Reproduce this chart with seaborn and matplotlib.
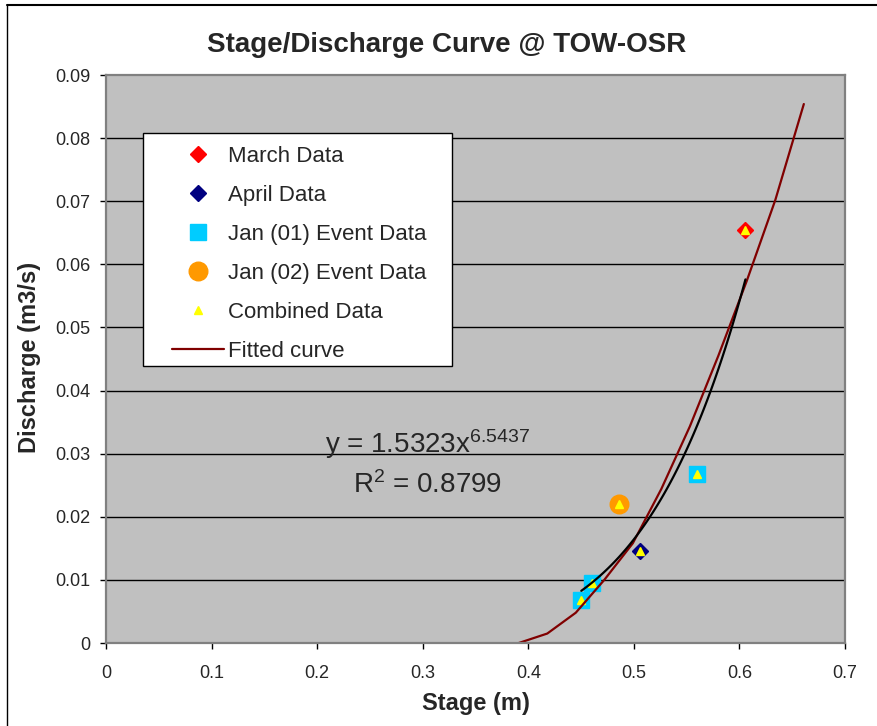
import numpy as np
import pandas as pd
import matplotlib
matplotlib.use("Agg")
import matplotlib.pyplot as plt
import seaborn as sns
from matplotlib.lines import Line2D
from matplotlib.patches import Rectangle

# ---------------- data ----------------
march_stage = [0.6057]
march_q = [0.0655]
april_stage = [0.5055]
april_q = [0.01465]
jan01_stage = [0.4502, 0.4603, 0.5598]
jan01_q = [0.00683, 0.00952, 0.0268]
jan02_stage = [0.4856]
jan02_q = [0.02206]
combined_stage = [0.6057, 0.5055, 0.4502, 0.4603, 0.5598, 0.4856]
combined_q = [0.0655, 0.01465, 0.00683, 0.00952, 0.0268, 0.02206]

fitted_stage = [0.391, 0.418, 0.445, 0.472, 0.499, 0.526, 0.553, 0.580, 0.607, 0.634, 0.661]
fitted_q = [0.0, 0.0015, 0.0048, 0.0100, 0.0158, 0.0244, 0.0343, 0.0455, 0.0574, 0.0702, 0.0854]

trend_coef = 1.5323
trend_exp = 6.5437
trend_r2 = 0.8799
trend_range = [0.4502, 0.6057]

x_ticks = [0, 0.1, 0.2, 0.3, 0.4, 0.5, 0.6, 0.7]
x_tick_labels = ["0", "0.1", "0.2", "0.3", "0.4", "0.5", "0.6", "0.7"]
y_ticks = [0, 0.01, 0.02, 0.03, 0.04, 0.05, 0.06, 0.07, 0.08, 0.09]
y_tick_labels = ["0", "0.01", "0.02", "0.03", "0.04", "0.05", "0.06", "0.07", "0.08", "0.09"]

# ---------------- style ----------------
sns.set_style("white")
plt.rcParams["font.family"] = ["Liberation Sans", "DejaVu Sans"]
plt.rcParams["mathtext.fontset"] = "custom"
plt.rcParams["mathtext.rm"] = "Liberation Sans"
plt.rcParams["mathtext.it"] = "Liberation Sans:italic"
plt.rcParams["mathtext.bf"] = "Liberation Sans:bold"

W, H = 877, 726
fig = plt.figure(figsize=(W / 100, H / 100), dpi=100)
ax_l, ax_r, ax_t, ax_b = 106, 845, 75, 643
ax = fig.add_axes([ax_l / W, 1 - ax_b / H, (ax_r - ax_l) / W, (ax_b - ax_t) / H])
ax.set_facecolor("#C0C0C0")

# curves
trend_x = np.linspace(trend_range[0], trend_range[1], 80)
trend_y = trend_coef * trend_x ** trend_exp
sns.lineplot(x=fitted_stage, y=fitted_q, ax=ax, color="#800000", lw=1.6, sort=False,
             zorder=4, legend=False)
sns.lineplot(x=trend_x, y=trend_y, ax=ax, color="black", lw=1.6, zorder=4, legend=False)

# points
ms_d, ms_s, ms_o, ms_t = 8.6, 12, 13.4, 5.5
ax.plot(march_stage, march_q, ls="none", marker="D", ms=ms_d, color="#FF0000", mec="#FF0000", zorder=3)
ax.plot(april_stage, april_q, ls="none", marker="D", ms=ms_d, color="#000080", mec="#000080", zorder=3)
ax.plot(jan01_stage, jan01_q, ls="none", marker="s", ms=ms_s, color="#00CCFF", mec="#00CCFF", zorder=3)
ax.plot(jan02_stage, jan02_q, ls="none", marker="o", ms=ms_o, color="#FF9900", mec="#FF9900", zorder=3)
ax.plot(combined_stage, combined_q, ls="none", marker="^", ms=ms_t, color="#FFFF00", mec="#FFFF00", zorder=3.5)

# axes
ax.set_xlim(0, 0.7)
ax.set_ylim(0, 0.09)
ax.set_xticks(x_ticks)
ax.set_xticklabels(x_tick_labels)
ax.set_yticks(y_ticks)
ax.set_yticklabels(y_tick_labels)
ax.tick_params(axis="x", direction="out", length=4, width=1, color="black", pad=11.5, labelsize=13, bottom=True)
ax.tick_params(axis="y", direction="out", length=4.3, width=1, color="black", pad=7, labelsize=13, left=True)
for yv in y_ticks[1:-1]:
    ax.axhline(yv, color="black", lw=1, zorder=1)
for s in ax.spines.values():
    s.set_color("#808080")
    s.set_linewidth(1.6)
    s.set_zorder(5)

ax.set_xlabel("Stage (m)", fontsize=17, fontweight="bold")
ax.set_ylabel("Discharge (m3/s)", fontsize=17, fontweight="bold")
ax.xaxis.set_label_coords(0.5, -0.087)
ax.yaxis.set_label_coords(-0.088, 0.5035)

fig.text(446.5 / W, 1 - 45 / H, "Stage/Discharge Curve @ TOW-OSR", ha="center", va="center",
         fontsize=20, fontweight="bold")

# equation
ax.text(0.305, 0.03005, r"y = 1.5323x$^{\mathrm{6.5437}}$", ha="center", va="baseline", fontsize=20, zorder=6)
ax.text(0.305, 0.0237, r"R$^{\mathrm{2}}$ = 0.8799", ha="center", va="baseline", fontsize=20, zorder=6)

# legend box
pxw, pxh = (ax_r - ax_l), (ax_b - ax_t)
ax.add_patch(Rectangle(((143 - ax_l) / pxw, (ax_b - 366) / pxh), (452 - 143) / pxw, (366 - 133) / pxh,
                       transform=ax.transAxes, facecolor="white", edgecolor="black", lw=1, zorder=6))
handles = [
    Line2D([], [], ls="none", marker="D", ms=ms_d, color="#FF0000"),
    Line2D([], [], ls="none", marker="D", ms=ms_d, color="#000080"),
    Line2D([], [], ls="none", marker="s", ms=ms_s, color="#00CCFF"),
    Line2D([], [], ls="none", marker="o", ms=ms_o, color="#FF9900"),
    Line2D([], [], ls="none", marker="^", ms=ms_t, color="#FFFF00"),
    Line2D([], [], color="#800000", lw=1.6),
]
labels = ["March Data", "April Data", "Jan (01) Event Data", "Jan (02) Event Data", "Combined Data", "Fitted curve"]
leg = ax.legend(handles, labels, loc="upper left",
                bbox_to_anchor=((172 - ax_l) / pxw, (ax_b - 146) / pxh),
                frameon=False, fontsize=16, borderpad=0, borderaxespad=0,
                handlelength=2.32, handletextpad=0.18, labelspacing=0.81, numpoints=1)
leg.set_zorder(7)

# figure border
fig.add_artist(Line2D([7 / W, 1], [1 - 4.7 / H, 1 - 4.7 / H], color="black", lw=1.5, transform=fig.transFigure))
fig.add_artist(Line2D([7 / W, 7 / W], [0, 1 - 4.7 / H], color="black", lw=1.0, transform=fig.transFigure))

fig.savefig("out.png", dpi=100)
